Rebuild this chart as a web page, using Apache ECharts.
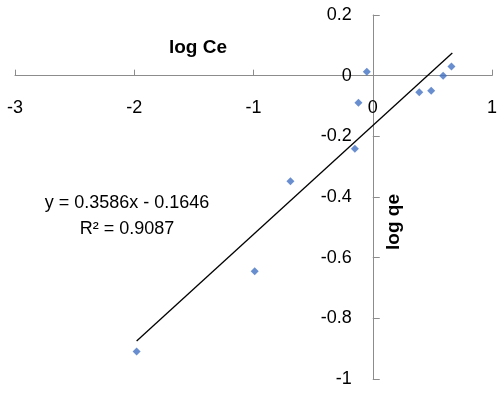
<!DOCTYPE html>
<html>
<head>
<meta charset="utf-8">
<script src="https://cdn.jsdelivr.net/npm/echarts@6/dist/echarts.min.js"></script>
<style>
  html, body { margin: 0; padding: 0; background: #fff; }
  #char { width: 499px; height: 394px; }
</style>
</head>
<body>
<div id="char"></div>
<script>
// log Ce / log qe points
var logCe = [-1.98, -0.99, -0.69, -0.15, -0.12, -0.05, 0.39, 0.49, 0.59, 0.66]
var logQe = [-0.909, -0.645, -0.348, -0.241, -0.089, 0.013, -0.055, -0.05, 0, 0.03]
// trendline y = slope * x + intercept, drawn over the x range of the points
var slope = 0.3586
var intercept = -0.1646
var fitRange = [-1.98, 0.667]
var eqLines = ['y = 0.3586x - 0.1646', 'R² = 0.9087']

var xMin = -3, xMax = 1
var yMin = -1, yMax = 0.2

var points = []
for (var i = 0; i < logCe.length; i++) {
  points.push([logCe[i], logQe[i]])
}
var fitLine = fitRange.map(function (x) {
  return [x, slope * x + intercept]
})

var font = 'Liberation Sans, Arial, sans-serif'
var axisColor = '#8c8c8c'

var W = 499, H = 394
var gl = 15, gr = 7, gt = 15, gb = 15
var gw = W - gl - gr
var gh = H - gt - gb
// axes cross at zero, labels travel with them
var xAxisOffset = -gh * (0 - yMin) / (yMax - yMin)
var yAxisOffset = -gw * (0 - xMin) / (xMax - xMin)

var myChart = echarts.init(document.getElementById('char'))
myChart.setOption({
  animation: false,
  grid: {
    left: gl,
    right: gr,
    top: gt,
    bottom: gb,
    containLabel: false,
    outerBoundsMode: 'none'
  },
  xAxis: {
    type: 'value',
    min: xMin,
    max: xMax,
    interval: 1,
    position: 'bottom',
    offset: xAxisOffset,
    axisLine: { onZero: false, lineStyle: { color: axisColor, width: 1 } },
    axisTick: { show: true, inside: true, length: 6, lineStyle: { color: axisColor } },
    axisLabel: { margin: 23, color: '#000', fontSize: 18, fontFamily: font },
    splitLine: { show: false }
  },
  yAxis: {
    type: 'value',
    min: yMin,
    max: yMax,
    interval: 0.2,
    position: 'left',
    offset: yAxisOffset,
    axisLine: { show: true, onZero: false, lineStyle: { color: axisColor, width: 1 } },
    axisTick: { show: true, inside: true, length: 7, lineStyle: { color: axisColor } },
    axisLabel: {
      margin: 21,
      color: '#000',
      fontSize: 18,
      fontFamily: font,
      formatter: function (v) {
        return String(Math.round(v * 10) / 10)
      }
    },
    splitLine: { show: false }
  },
  graphic: [
    {
      type: 'text',
      x: 198,
      y: 48,
      style: {
        text: 'log Ce',
        font: 'bold 19px ' + font,
        fill: '#000',
        align: 'center',
        verticalAlign: 'middle'
      }
    },
    {
      type: 'text',
      x: 384,
      y: 250,
      rotation: Math.PI / 2,
      style: { text: 'log qe', font: 'bold 19px ' + font, fill: '#000' }
    },
    {
      type: 'text',
      x: 127,
      y: 216,
      style: {
        text: eqLines.join('\n'),
        font: '18px ' + font,
        fill: '#000',
        align: 'center',
        verticalAlign: 'middle',
        lineHeight: 26
      }
    }
  ],
  series: [
    {
      name: 'fit',
      type: 'line',
      data: fitLine,
      symbol: 'none',
      silent: true,
      lineStyle: { color: '#000', width: 1.3 },
      z: 2
    },
    {
      name: 'data',
      type: 'scatter',
      data: points,
      symbol: 'diamond',
      symbolSize: 8,
      itemStyle: { color: '#4472C4' },
      z: 3
    }
  ]
})
</script>
</body>
</html>
